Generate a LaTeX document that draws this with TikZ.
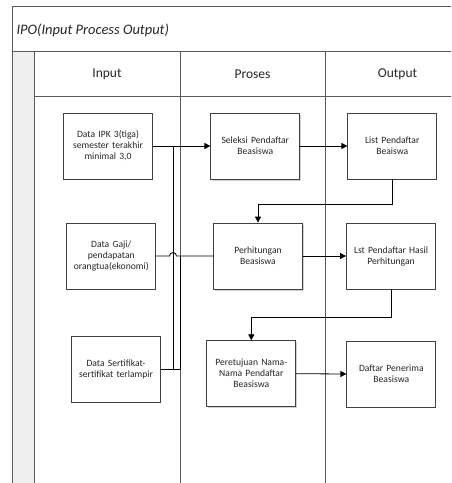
\documentclass[tikz,border=0pt]{standalone}
\usepackage{fontspec}
\setmainfont{Carlito}
\usetikzlibrary{arrows.meta}

\definecolor{lanegray}{HTML}{5A5A5A}
\definecolor{stripfill}{HTML}{EFEFEF}
\definecolor{boxline}{HTML}{404040}

\tikzset{
  lane/.style={draw=lanegray, line width=0.8pt},
  procbox/.style={draw=boxline, line width=0.8pt, fill=white,
    minimum width=89pt, minimum height=66pt, inner sep=2pt,
    align=center, text width=84pt,
    font=\fontsize{9.6}{11}\selectfont, text=black!85},
  shadowed/.style={preaction={fill=black!18, transform canvas={xshift=1.5pt, yshift=-1.5pt}}},
  link/.style={draw=black, line width=0.8pt},
  arr/.style={link, -{Triangle[length=6pt,width=6pt]}},
  header/.style={font=\fontsize{13.5}{16}\selectfont, text=black!85},
}

\begin{document}
\begin{tikzpicture}[x=1pt, y=-1pt]
\useasboundingbox (0,0) rectangle (451,483);
\clip (0,0) rectangle (451,483);

% swimlane frame
\fill[stripfill] (12,51) rectangle (34,500);
\draw[lane] (12,6) rectangle (480,500);
\draw[lane] (12,51) -- (480,51);
\draw[lane] (34,51) -- (34,500);
\draw[lane] (180,51) -- (180,500);
\draw[lane] (325,51) -- (325,500);
\draw[lane] (470,51) -- (470,500);
\draw[lane] (34,96) -- (480,96);

\node[anchor=west, font=\itshape\fontsize{14.5}{17}\selectfont, text=black!85] (title) at (13,30) {IPO(Input Process Output)};
\node[header] (hin)  at (107,74)   {Input};
\node[header] (hpr)  at (252.5,74) {Proses};
\node[header] (hout) at (397.5,74) {Output};

% input column
\node[procbox] (in1) at (108,146)   {Data IPK 3(tiga)\\semester terakhir\\minimal 3,0};
\node[procbox] (in2) at (111.3,256) {Data Gaji/\\pendapatan\\orangtua(ekonomi)};
\node[procbox] (in3) at (116,369)   {Data Sertifikat-\\sertifikat terlampir};

% process column
\node[procbox, shadowed] (pr1) at (255.3,146) {Seleksi Pendaftar\\Beasiswa};
\node[procbox, shadowed] (pr2) at (258,256)   {Perhitungan\\Beasiswa};
\node[procbox, shadowed] (pr3) at (251.3,373.7) {Peretujuan Nama-\\Nama Pendaftar\\Beasiswa};

% output column
\node[procbox] (out1) at (392.3,146) {List Pendaftar\\Beaiswa};
\node[procbox] (out2) at (391,256)   {Lst Pendaftar Hasil\\Perhitungan};
\node[procbox] (out3) at (391.3,374) {Daftar Penerima\\Beasiswa};

% input bus
\coordinate (busA) at (173,146);
\coordinate (busB) at (173,369);
\coordinate (busC) at (180,369);
\coordinate (busD) at (180,256);
\coordinate (hopL) at (169.5,256);

\draw[link] (in1.east) -- (busA);
\draw[arr] (busA) -- (pr1.west);
\draw[link] (busA) -- (busB);
\draw[link] (in3.east) -- (busC) -- (busD);
\draw[link] (in2.east) -- (hopL) arc[start angle=180, end angle=360, radius=3.5] -- (pr2.west);

% process flow
\draw[arr] (pr1.east) -- (out1.west);
\draw[arr] (out1.south) |- (258,204) -- (pr2.north);
\draw[arr] (pr2.east) -- (out2.west);
\draw[arr] (out2.south) |- (251.3,317) -- (pr3.north);
\draw[arr] (pr3.east) -- (out3.west);
\end{tikzpicture}
\end{document}
